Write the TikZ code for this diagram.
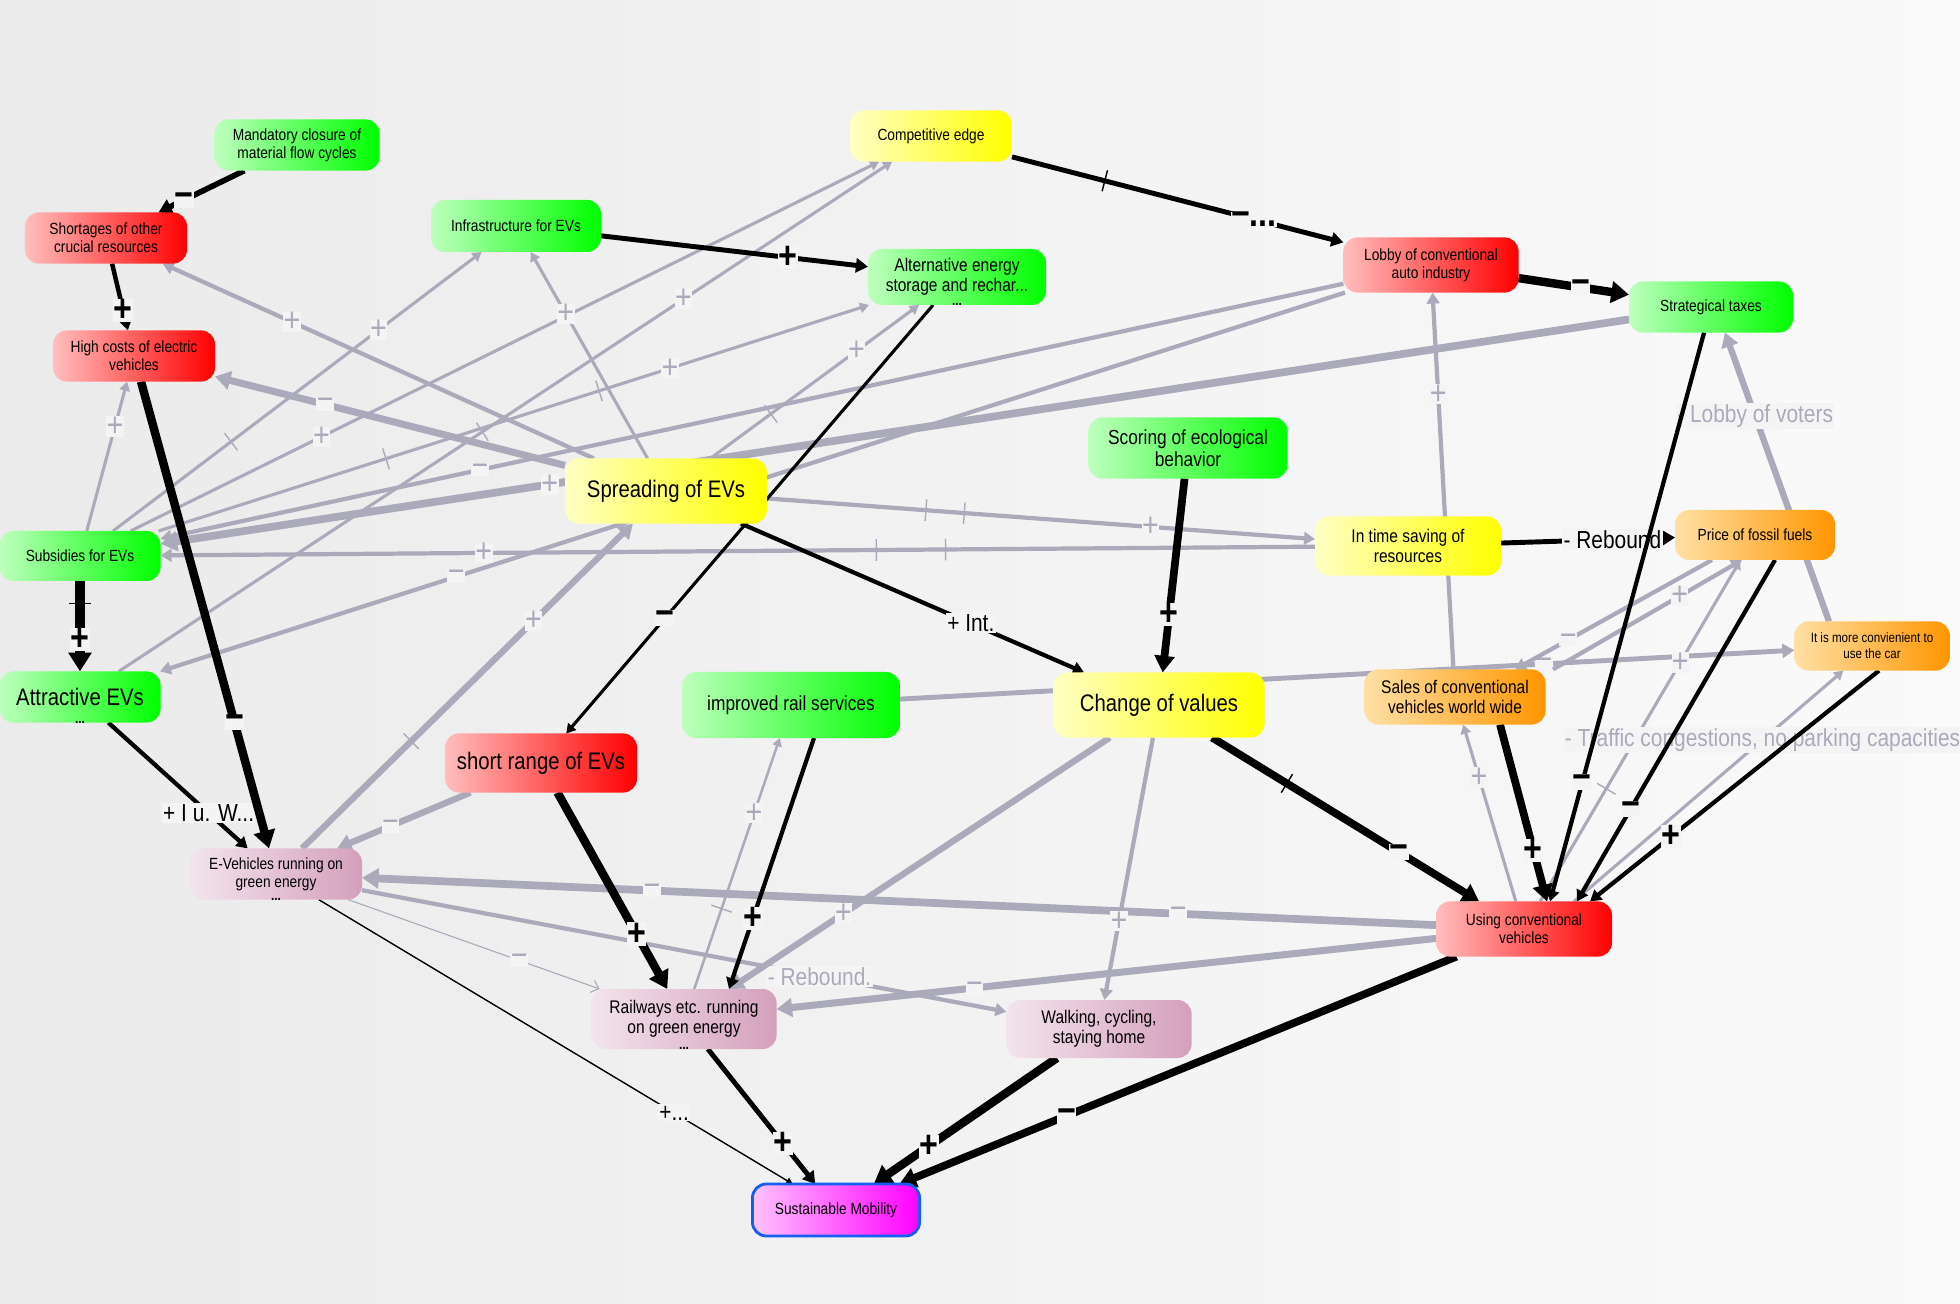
\documentclass[tikz,border=0pt]{standalone}
\usepackage{fontspec}
\setmainfont{Liberation Sans}[FakeStretch=0.85]
\usetikzlibrary{arrows.meta,calc}
\pgfdeclarelayer{back}
\pgfdeclarelayer{links}
\pgfsetlayers{back,links,main}

\definecolor{edgegray}{RGB}{170,170,187}
\definecolor{bgc}{RGB}{244,244,244}
\definecolor{ngreen}{RGB}{0,255,0}
\definecolor{lgreen}{RGB}{190,255,190}
\definecolor{nred}{RGB}{255,0,0}
\definecolor{lred}{RGB}{255,190,190}
\definecolor{nyellow}{RGB}{255,255,0}
\definecolor{lyellow}{RGB}{255,255,195}
\definecolor{norange}{RGB}{255,150,0}
\definecolor{lorange}{RGB}{255,224,165}
\definecolor{nmauve}{RGB}{212,160,188}
\definecolor{lmauve}{RGB}{243,228,236}
\definecolor{nmag}{RGB}{255,0,255}
\definecolor{lmag}{RGB}{255,195,255}
\definecolor{mborder}{RGB}{20,95,240}

\newcommand{\dlybar}{\rule[-2.7mm]{0.35mm}{5.4mm}}

\begin{document}
\begin{tikzpicture}[
  x=0.25mm, y=-0.25mm,
  >={Triangle[length=3pt 1.6, width=3pt 2]},
  box/.style={rounded corners=3.5mm, align=center, inner sep=1pt, outer sep=0pt},
  grn/.style={box, left color=lgreen, right color=ngreen},
  rd/.style={box, left color=lred, right color=nred},
  ylw/.style={box, left color=lyellow, right color=nyellow},
  org/.style={box, left color=lorange, right color=norange},
  mve/.style={box, left color=lmauve, right color=nmauve},
  fs/.style={font=\fontsize{11.5}{13}\selectfont},
  fm/.style={font=\fontsize{13}{14.5}\selectfont},
  fb/.style={font=\fontsize{14.5}{15.5}\selectfont},
  fl/.style={font=\fontsize{17}{19}\selectfont},
  ft/.style={font=\fontsize{9.7}{11.5}\selectfont},
  more/.style={label={[anchor=south, inner sep=0pt, yshift=-0.6pt, font=\bfseries\fontsize{10}{10}\selectfont]south:...}},
  blk/.style={->, draw=black},
  gry/.style={->, draw=edgegray},
  sgn/.style={fill=bgc, inner sep=0.3pt, text=black, font=\bfseries\fontsize{27}{27}\selectfont},
  gsgn/.style={fill=bgc, inner sep=0.3pt, text=edgegray, font=\fontsize{24}{24}\selectfont},
  blab/.style={fill=bgc, inner sep=1pt, text=black, font=\fontsize{17.5}{17.5}\selectfont},
  glab/.style={fill=bgc, inner sep=1pt, text=edgegray, font=\fontsize{17.5}{17.5}\selectfont},
  dly/.style={sloped, inner sep=0pt, text=edgegray},
  dlyb/.style={sloped, inner sep=0pt, text=black},
]
\begin{pgfonlayer}{back}
  \shade[left color=black!8, right color=black!2] (0,0) rectangle (1960,1304);
\end{pgfonlayer}
\useasboundingbox (0,0) rectangle (1960,1304);

% Top row
\node[grn, fs, minimum width=41.3mm, minimum height=12.8mm] (mand) at (297,145) {Mandatory closure of\\material flow cycles};
\node[ylw, fs, minimum width=40.5mm, minimum height=12.8mm] (comp) at (931,136) {Competitive edge};
\node[rd, fs, minimum width=40.5mm, minimum height=12.8mm] (short) at (106,238) {Shortages of other\\crucial resources};
\node[grn, fs, minimum width=42.5mm, minimum height=13mm] (infra) at (516,226) {Infrastructure for EVs};
\node[grn, fm, more, minimum width=44.5mm, minimum height=14mm] (alt) at (957,277) {Alternative energy\\storage and rechar...};
\node[rd, fs, minimum width=43.8mm, minimum height=13.8mm] (lobby) at (1431,265) {Lobby of conventional\\auto industry};
\node[grn, fs, minimum width=41mm, minimum height=12.8mm] (taxes) at (1711,307) {Strategical taxes};
\node[rd, fs, minimum width=40.5mm, minimum height=12.8mm] (costs) at (134,356) {High costs of electric\\vehicles};

% Middle rows
\node[grn, fb, minimum width=49.8mm, minimum height=15.3mm] (score) at (1188,448) {Scoring of ecological\\behavior};
\node[ylw, fl, minimum width=50.5mm, minimum height=16.3mm] (spread) at (666,491) {Spreading of EVs};
\node[grn, fs, minimum width=40.3mm, minimum height=12.5mm] (subs) at (80,556) {Subsidies for EVs};
\node[ylw, fm, minimum width=46.5mm, minimum height=14.8mm] (saving) at (1408,546) {In time saving of\\resources};
\node[org, fs, minimum width=40mm, minimum height=12.5mm] (price) at (1755,535) {Price of fossil fuels};
\node[org, ft, minimum width=38.8mm, minimum height=12.3mm] (conv) at (1872,646) {It is more convienient to\\use the car};
\node[grn, fl, more, minimum width=40.3mm, minimum height=12.8mm] (attr) at (80,697) {Attractive EVs};
\node[grn, fb, minimum width=54.5mm, minimum height=16.5mm] (rail) at (791,705) {improved rail services};
\node[ylw, fl, minimum width=52.8mm, minimum height=16.3mm] (change) at (1159,705) {Change of values};
\node[org, fm, minimum width=45.3mm, minimum height=13.8mm] (sales) at (1455,697) {Sales of conventional\\vehicles world wide};
\node[rd, fl, minimum width=48mm, minimum height=14.8mm] (range) at (541,763) {short range of EVs};

% Bottom rows
\node[mve, fs, more, minimum width=43mm, minimum height=12.8mm] (eveh) at (276,874) {E-Vehicles running on\\green energy};
\node[rd, fs, minimum width=44mm, minimum height=13.8mm] (using) at (1524,929) {Using conventional\\vehicles};
\node[mve, fm, more, minimum width=46.3mm, minimum height=15mm] (railw) at (684,1019) {Railways etc. running\\on green energy};
\node[mve, fm, minimum width=46.3mm, minimum height=14.5mm] (walk) at (1099,1029) {Walking, cycling,\\staying home};
\node[box, fs, left color=lmag, right color=nmag, draw=mborder, line width=2pt, minimum width=41.8mm, minimum height=13mm] (sust) at (836,1210) {Sustainable Mobility};

\begin{pgfonlayer}{links}
% Gray links
\draw[gry, line width=3pt] (spread) -- node[gsgn, pos=.7] {+} (short);
\draw[gry, line width=2.2pt] (subs) -- node[dly, pos=.32] {\dlybar} node[gsgn, pos=.72] {+} (infra);
\draw[gry, line width=2.2pt] (subs) -- node[gsgn, pos=.255] {+} (comp);
\draw[gry, line width=2.2pt] (attr) -- node[dly, pos=.47] {\dlybar} node[gsgn, pos=.73] {+} (comp);
\draw[gry, line width=2.2pt] (subs) -- node[dly, pos=.32] {\dlybar} node[dly, pos=.62] {\dlybar} node[gsgn, pos=.72] {+} (alt);
\draw[gry, line width=2.2pt] (spread) -- node[dly, pos=.29] {\dlybar} node[gsgn, pos=.7] {+} (alt);
\draw[gry, line width=2.2pt] (spread) -- node[gsgn, pos=.7] {+} (infra);
\draw[gry, line width=5pt] (spread) -- node[gsgn, pos=.685] {−} (costs);
\draw[gry, line width=2.2pt] (subs) -- node[gsgn, pos=.7] {+} (costs);
\draw[gry, line width=3pt] (lobby) -- node[gsgn, pos=.73] {−} (subs);
\draw[gry, line width=3pt] (lobby) -- node[gsgn, pos=.75] {−} (attr);
\draw[gry, line width=5.5pt] (taxes) -- node[gsgn, pos=.735] {+} (subs);
\draw[gry, line width=3pt] (saving) -- node[dly, pos=.32] {\dlybar} node[dly, pos=.38] {\dlybar} node[gsgn, pos=.72] {+} (subs);
\draw[gry, line width=3pt] (spread) -- node[dly, pos=.29] {\dlybar} node[dly, pos=.36] {\dlybar} node[gsgn, pos=.7] {+} (saving);
\draw[gry, line width=4.5pt] (eveh) -- node[dly, pos=.33] {\dlybar} node[gsgn, pos=.7] {+} (spread);
\draw[gry, line width=3pt] (sales) -- node[gsgn, pos=.73] {+} (lobby);
\draw[gry, line width=4.5pt] ($(conv.north)+(-43,0)$) -- node[glab, pos=.71] {- Lobby of voters} ($(taxes.south)+(14,0)$);
\draw[gry, line width=3.5pt] (rail) -- node[gsgn, pos=.72] {−} (conv);
\draw[gry, line width=2.2pt] (using) -- node[dly, pos=.33] {\dlybar} node[gsgn, pos=.7] {+} (price);
\draw[gry, line width=3pt] ($(price.south)+(-43,0)$) -- node[gsgn, pos=.73] {−} ($(sales.north)+(60,0)$);
\draw[gry, line width=3pt] ($(sales.north)+(98,0)$) -- node[gsgn, pos=.67] {+} ($(price.south)+(-13,0)$);
\draw[gry, line width=2.2pt] (using) -- node[gsgn, pos=.7] {+} (sales);
\draw[gry, line width=2.2pt] ($(using.north)+(50,0)$) -- node[glab, pos=.7] {- Traffic congestions, no parking capacities} (conv);
\draw[gry, line width=5.5pt] (using) -- node[gsgn, pos=.24] {−} node[gsgn, pos=.73] {−} (eveh);
\draw[gry, line width=5pt] (using) -- node[gsgn, pos=.7] {−} (railw);
\draw[gry, line width=0.8pt, -{Straight Barb[length=5pt, width=9pt]}] (eveh) -- node[gsgn, pos=.68] {−} (railw);
\draw[gry, line width=3pt] (eveh) -- node[glab, pos=.71] {- Rebound.} (walk);
\draw[gry, line width=1.8pt] (railw) -- node[dly, pos=.32] {\dlybar} node[gsgn, pos=.7] {+} (rail);
\draw[gry, line width=4.5pt] (change) -- node[gsgn, pos=.7] {+} (railw);
\draw[gry, line width=3pt] (change) -- node[gsgn, pos=.7] {+} (walk);
\draw[gry, line width=4.5pt] (range) -- node[gsgn, pos=.6] {−} (eveh);

% Black links
\draw[blk, line width=4pt] (mand) -- node[sgn, pos=.7] {−} (short);
\draw[blk, line width=3.2pt] (short) -- node[sgn, pos=.7] {+} (costs);
\draw[blk, line width=3.5pt] (infra) -- node[sgn, pos=.7] {+} (alt);
\draw[blk, line width=3.5pt] (comp) -- node[dlyb, pos=.28] {\dlybar} node[sgn, pos=.73] {−...} (lobby);
\draw[blk, line width=6pt] (lobby) -- node[sgn, pos=.56] {−} (taxes);
\draw[blk, line width=2.2pt] (alt) -- node[sgn, pos=.73] {−} (range);
\draw[blk, line width=3pt] (spread) -- node[blab, pos=.67] {+ Int.} (change);
\draw[blk, line width=5.5pt] (score) -- node[sgn, pos=.7] {+} (change);
\draw[blk, line width=6.5pt] (subs) -- node[dlyb, pos=.25] {\dlybar} node[sgn, pos=.65] {+} (attr);
\draw[blk, line width=3pt] (attr) -- node[blab, pos=.72] {+ I u. W...} (eveh);
\draw[blk, line width=6pt] (costs) -- node[sgn, pos=.73] {−} (eveh);
\draw[blk, line width=6pt] (range) -- node[sgn, pos=.72] {+} (railw);
\draw[blk, line width=3pt] ($(rail.south)+(23,0)$) -- node[sgn, pos=.72] {+} ($(railw.north)+(45,0)$);
\draw[blk, line width=1pt] (eveh) -- node[blab, pos=.75] {+...} (sust);
\draw[blk, line width=3.5pt] (railw) -- node[sgn, pos=.7] {+} (sust);
\draw[blk, line width=6pt] (walk) -- node[sgn, pos=.7] {+} (sust);
\draw[blk, line width=5.5pt] (using) -- node[sgn, pos=.7] {−} (sust);
\draw[blk, line width=3.5pt] (saving) -- node[blab, pos=.64] {- Rebound} (price);
\draw[blk, line width=5.5pt] (change) -- node[dlyb, pos=.28] {\dlybar} node[sgn, pos=.7] {−} (using);
\draw[blk, line width=5.5pt] ($(sales.south)+(45,0)$) -- node[sgn, pos=.71] {+} ($(using.north)+(23,0)$);
\draw[blk, line width=3pt] (taxes) -- node[sgn, pos=.79] {−} ($(using.north)+(26,0)$);
\draw[blk, line width=3pt] ($(price.south)+(20,0)$) -- node[sgn, pos=.73] {−} ($(using.north)+(53,0)$);
\draw[blk, line width=3pt] ($(conv.south)+(7,0)$) -- node[sgn, pos=.72] {+} ($(using.north)+(66,0)$);
\end{pgfonlayer}

\end{tikzpicture}
\end{document}
